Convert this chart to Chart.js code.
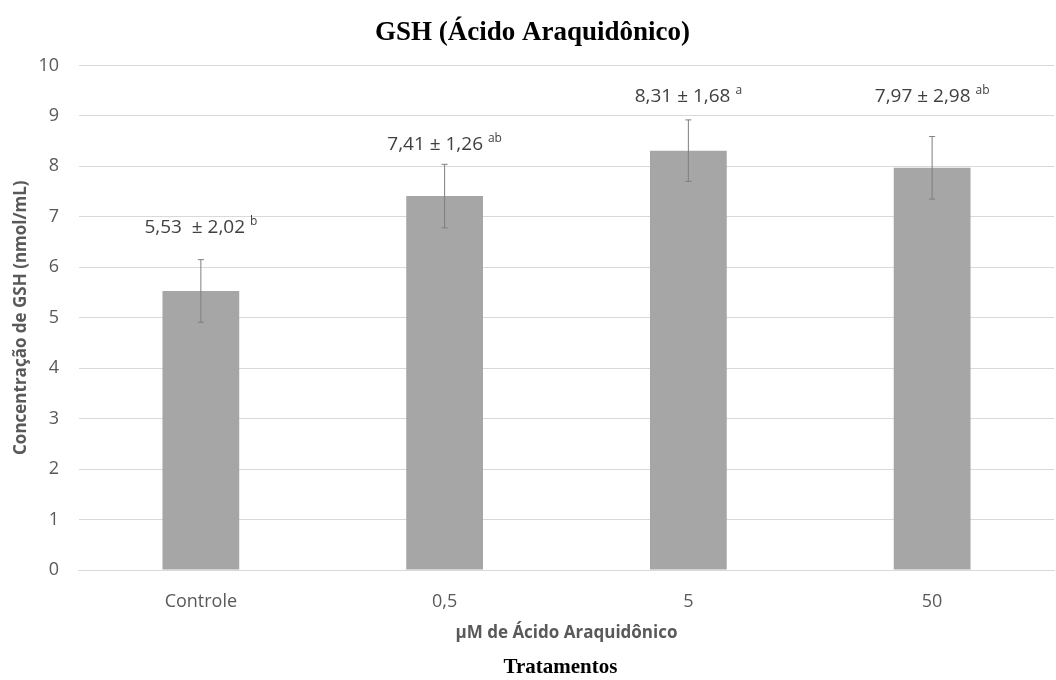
<!DOCTYPE html>
<html>
<head>
<meta charset="utf-8">
<script src="https://cdn.jsdelivr.net/npm/chart.js@4/dist/chart.umd.min.js"></script>
<style>
  body { margin: 0; background: #fff; }
  #wrap { width: 1056px; height: 680px; }
</style>
</head>
<body>
<div id="wrap"><canvas id="chart" width="1056" height="680"></canvas></div>
<script>
// values
const categories = ["Controle", "0,5", "5", "50"];
const means = [5.53, 7.41, 8.31, 7.97];
const sds = [2.02, 1.26, 1.68, 2.98];          // as printed in the labels
const letters = ["b", "ab", "a", "ab"];
const errorBars = [0.62, 0.63, 0.61, 0.62];     // half length of the drawn whiskers
const yTicks = [0, 1, 2, 3, 4, 5, 6, 7, 8, 9, 10];

const fmt = (v) => v.toFixed(2).replace(".", ",");

const sans = "'Open Sans', 'Noto Sans', sans-serif";
const serif = "'Liberation Serif', 'DejaVu Serif', serif";

// whiskers, value labels and the "Tratamentos" caption
const extrasPlugin = {
  id: "extras",
  afterDatasetsDraw(chart, args, opts) {
    const ctx = chart.ctx;
    const y = chart.scales.y;
    const meta = chart.getDatasetMeta(0);
    ctx.save();
    meta.data.forEach((bar, i) => {
      const x = bar.x;
      const top = y.getPixelForValue(means[i] + errorBars[i]);
      const bot = y.getPixelForValue(means[i] - errorBars[i]);
      ctx.strokeStyle = "#7f7f7f";
      ctx.lineWidth = 1;
      ctx.beginPath();
      ctx.moveTo(x, top); ctx.lineTo(x, bot);
      ctx.moveTo(x - 3, top); ctx.lineTo(x + 3, top);
      ctx.moveTo(x - 3, bot); ctx.lineTo(x + 3, bot);
      ctx.stroke();

      // label: "m ± sd" + superscript letter
      const main = fmt(means[i]) + (i === 0 ? "  ± " : " ± ") + fmt(sds[i]) + " ";
      ctx.font = "19px " + sans;
      const w1 = ctx.measureText(main).width;
      ctx.font = "12px " + sans;
      const w2 = ctx.measureText(letters[i]).width;
      const ly = top - opts.lift[i];
      const lx = x - (w1 + w2) / 2;
      ctx.fillStyle = "#404040";
      ctx.textBaseline = "alphabetic";
      ctx.textAlign = "left";
      ctx.font = "19px " + sans;
      ctx.fillText(main, lx, ly);
      ctx.font = "12px " + sans;
      ctx.fillText(letters[i], lx + w1, ly - 8);
    });

    const area = chart.chartArea;
    ctx.font = "bold 21px " + serif;
    ctx.fillStyle = "#000";
    ctx.textAlign = "center";
    ctx.textBaseline = "middle";
    ctx.fillText("Tratamentos", (area.left + area.right) / 2 - 6, 668);
    ctx.restore();
  }
};

new Chart(document.getElementById("chart"), {
  type: "bar",
  data: {
    labels: categories,
    datasets: [{
      data: means,
      backgroundColor: "#a6a6a6",
      borderWidth: 0,
      barPercentage: 0.315,
      categoryPercentage: 1
    }]
  },
  options: {
    responsive: false,
    animation: false,
    layout: { padding: { left: 11, right: 2, top: 0, bottom: 37 } },
    plugins: {
      legend: { display: false },
      tooltip: { enabled: false },
      title: {
        display: true,
        text: "GSH (Ácido Araquidônico)",
        color: "#000",
        font: { family: serif, size: 27, weight: "bold" },
        padding: { top: 17, bottom: 16 }
      },
      extras: { lift: [27, 14, 18, 35] }
    },
    scales: {
      x: {
        grid: { display: false },
        border: { display: true, color: "#d9d9d9" },
        ticks: { color: "#595959", font: { family: sans, size: 18 }, padding: 13 },
        title: {
          display: true,
          text: "µM de Ácido Araquidônico",
          color: "#595959",
          font: { family: sans, size: 17, weight: "bold" },
          padding: { top: -3, bottom: 0 }
        }
      },
      y: {
        min: 0,
        max: 10,
        afterBuildTicks: (scale) => { scale.ticks = yTicks.map((v) => ({ value: v })); },
        grid: { color: "#d9d9d9", drawTicks: false },
        border: { display: false },
        ticks: { color: "#595959", font: { family: sans, size: 18 }, padding: 20 },
        title: {
          display: true,
          text: "Concentração de GSH (nmol/mL)",
          color: "#595959",
          font: { family: sans, size: 17, weight: "bold" },
          padding: { top: 0, bottom: -13 }
        }
      }
    }
  },
  plugins: [extrasPlugin]
});
</script>
</body>
</html>
